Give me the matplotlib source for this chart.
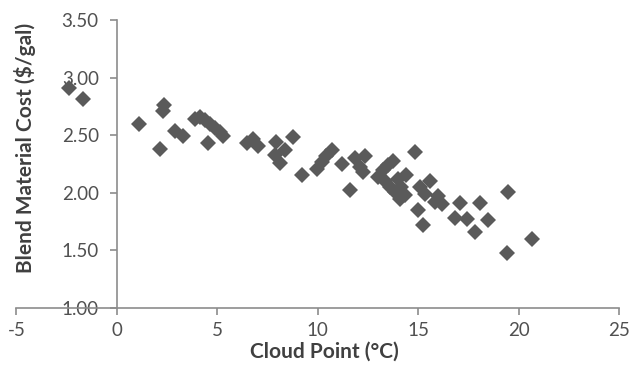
import matplotlib
matplotlib.use("Agg")
import matplotlib.pyplot as plt

cloud_point = [-2.4, -1.7, 1.08, 2.15, 2.36, 2.30, 2.90, 3.28, 3.89, 4.14, 4.38, 4.63, 4.88,
               4.55, 5.12, 5.30, 6.46, 6.79, 7.04, 7.90, 7.85, 8.10, 8.35, 8.75, 9.20,
               9.95, 10.20, 10.40, 10.70, 11.20, 11.60, 11.86, 12.36, 12.10, 12.27,
               13.00, 13.25, 13.50, 13.75, 13.34, 13.60, 13.84, 14.08, 14.33, 14.00,
               14.41, 14.17, 14.85, 15.57, 15.08, 15.33, 16.00, 15.83, 15.00, 16.20,
               15.26, 17.10, 18.10, 16.84, 17.42, 18.50, 17.84, 19.46, 19.42, 20.66]
blend_cost = [2.91, 2.81, 2.60, 2.38, 2.76, 2.71, 2.54, 2.49, 2.64, 2.66, 2.63, 2.60, 2.56,
              2.43, 2.53, 2.49, 2.43, 2.47, 2.41, 2.44, 2.33, 2.26, 2.37, 2.48, 2.15,
              2.21, 2.27, 2.32, 2.37, 2.25, 2.02, 2.30, 2.32, 2.22, 2.18,
              2.14, 2.20, 2.24, 2.28, 2.10, 2.05, 2.01, 1.95, 1.98, 2.12,
              2.15, 2.05, 2.35, 2.10, 2.05, 1.99, 1.97, 1.92, 1.85, 1.90,
              1.72, 1.91, 1.91, 1.78, 1.77, 1.76, 1.66, 2.01, 1.48, 1.60]
x_ticks = [-5, 0, 5, 10, 15, 20, 25]
y_ticks = [1.00, 1.50, 2.00, 2.50, 3.00, 3.50]

plt.rcParams['font.family'] = ['Lato', 'DejaVu Sans']

fig = plt.figure(figsize=(6.31, 3.67), dpi=100)
ax = fig.add_axes([0.026, 0.161, 0.955, 0.7845])

ax.plot(cloud_point, blend_cost, linestyle='none', marker='D', markersize=8.5,
        color='#5a5a5a', markeredgewidth=0)

ax.set_xlim(-5, 25)
ax.set_ylim(1.0, 3.5)
ax.set_xticks(x_ticks)
ax.set_yticks(y_ticks)
ax.set_xticklabels([str(t) for t in x_ticks])
ax.set_yticklabels([f"{t:.2f}" for t in y_ticks])

for s in ['top', 'right']:
    ax.spines[s].set_visible(False)
ax.spines['left'].set_position(('data', 0))
ax.spines['bottom'].set_position(('data', 1.0))
for s in ['left', 'bottom']:
    ax.spines[s].set_color('#8c8c8c')
    ax.spines[s].set_linewidth(1.2)

ax.tick_params(axis='both', direction='out', length=5, width=1.2, color='#8c8c8c',
               labelsize=13.5, labelcolor='#505050', pad=5)
ax.tick_params(axis='y', pad=8)

ax.set_xlabel('Cloud Point (°C)', fontsize=15, fontweight='bold', color='#404040')
ax.set_ylabel('Blend Material Cost ($/gal)', fontsize=15, fontweight='bold', color='#404040')
ax.xaxis.set_label_coords(0.511, -0.118)
ax.xaxis.label.set_va('top')
ax.yaxis.set_label_coords(0.014, 0.554)
ax.yaxis.label.set_va('center')

fig.savefig('out.png', dpi=100)
